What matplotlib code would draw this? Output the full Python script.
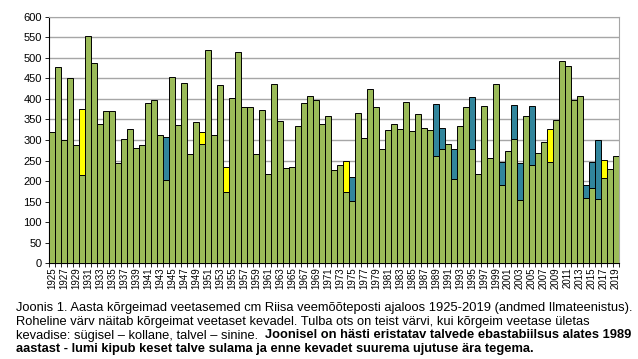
import matplotlib
matplotlib.use('Agg')
import matplotlib.pyplot as plt
import numpy as np

plt.rcParams['font.family'] = ['Liberation Sans', 'DejaVu Sans']

years = list(range(1925, 2020))

# highest water level in spring (green part), cm
spring = [319, 478, 301, 452, 288, 214, 553, 487, 340, 370,
          370, 245, 303, 327, 280, 287, 389, 397, 312, 203,
          453, 336, 439, 267, 345, 290, 518, 311, 435, 174,
          402, 515, 380, 380, 267, 373, 218, 437, 347, 231,
          235, 335, 390, 408, 398, 340, 358, 227, 240, 174,
          152, 365, 305, 423, 381, 278, 324, 338, 326, 393,
          322, 364, 328, 325, 260, 279, 290, 205, 333, 380,
          279, 218, 383, 255, 436, 190, 273, 303, 155, 358,
          238, 268, 294, 246, 348, 493, 480, 398, 408, 160,
          184, 157, 208, 229, 260]

# yearly maximum when it came in autumn (yellow) or winter (blue)
autumn_max = {1930: 375, 1950: 320, 1954: 235, 1974: 250, 2008: 327, 2017: 251}
winter_max = {1944: 307, 1975: 210, 1989: 388, 1990: 328, 1992: 279, 1995: 405,
              2000: 247, 2002: 386, 2003: 243, 2005: 383, 2014: 190, 2015: 247,
              2016: 300}

green = '#9BBB59'
yellow = '#FFFF00'
blue = '#31859C'

fig = plt.figure(figsize=(6.38, 3.59), dpi=100)
ax = fig.add_axes([49/638, 1 - 263.3/359, 570/638, 246.6/359])

x = np.arange(len(years))
ax.bar(x, spring, width=1.0, color=green, edgecolor='black', linewidth=0.7, zorder=3)

for yr, top in autumn_max.items():
    i = years.index(yr)
    ax.bar(i, top - spring[i], bottom=spring[i], width=1.0, color=yellow,
           edgecolor='black', linewidth=0.7, zorder=3)
for yr, top in winter_max.items():
    i = years.index(yr)
    ax.bar(i, top - spring[i], bottom=spring[i], width=1.0, color=blue,
           edgecolor='black', linewidth=0.7, zorder=3)

ax.set_xlim(-0.5, len(years) - 0.5)
ax.set_ylim(0, 600)
ax.set_yticks(range(0, 601, 50))
ax.yaxis.grid(True, color='#A6A6A6', linewidth=1.0, zorder=0)
ax.set_xticks(x[::2])
ax.set_xticklabels([str(y) for y in years[::2]], rotation=90, fontsize=7)
ax.set_xticks(np.arange(-0.5, len(years), 1), minor=True)
ax.tick_params(axis='x', which='major', length=0, pad=3)
ax.tick_params(axis='x', which='minor', length=3, width=0.6)
ax.tick_params(axis='y', labelsize=8, length=3, width=0.6, pad=2)

for s in ['top', 'right']:
    ax.spines[s].set_color('#A6A6A6')
ax.spines['left'].set_linewidth(0.8)
ax.spines['bottom'].set_linewidth(0.8)

fs = 9.3
x0 = 16/638
fig.text(x0, 1 - 308/359, 'Joonis 1. Aasta kõrgeimad veetasemed cm Riisa veemõõteposti ajaloos 1925-2019 (andmed Ilmateenistus).',
         fontsize=fs, va='center')
fig.text(x0, 1 - 322/359, 'Roheline värv näitab kõrgeimat veetaset kevadel. Tulba ots on teist värvi, kui kõrgeim veetase ületas',
         fontsize=fs, va='center')
t3 = fig.text(x0, 1 - 335.5/359, 'kevadise: sügisel – kollane, talvel – sinine.  ',
              fontsize=fs, va='center')
fig.canvas.draw()
bb = t3.get_window_extent()
fig.text(bb.x1 / fig.bbox.width, 1 - 335.5/359,
         'Joonisel on hästi eristatav talvede ebastabiilsus alates 1989',
         fontsize=fs, va='center', fontweight='bold')
fig.text(x0, 1 - 349/359, 'aastast - lumi kipub keset talve sulama ja enne kevadet suurema ujutuse ära tegema.',
         fontsize=fs, va='center', fontweight='bold')

fig.savefig('out.png', dpi=100)
